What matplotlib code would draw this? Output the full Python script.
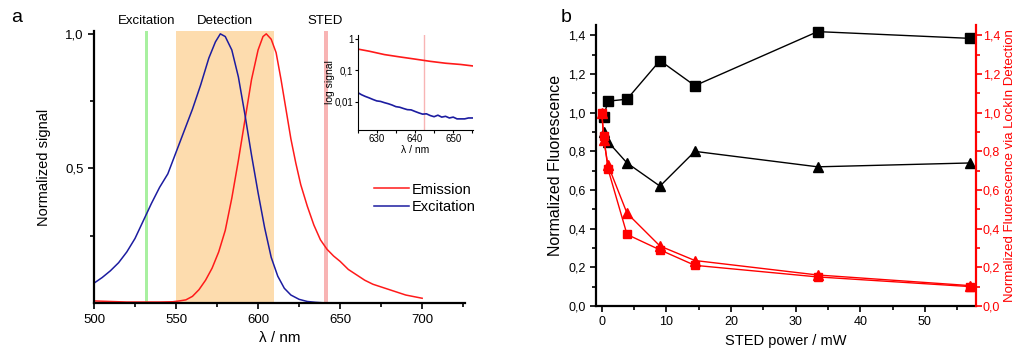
import matplotlib
matplotlib.use("Agg")
import matplotlib.pyplot as plt
from matplotlib.ticker import FixedLocator, MultipleLocator, FuncFormatter

plt.rcParams['font.family'] = ['Liberation Sans Narrow', 'Liberation Sans', 'DejaVu Sans']

# ---- panel a: spectra ----
exc_wl = [500, 505, 510, 515, 520, 525, 530, 535, 540, 545, 550, 555, 560, 565, 570, 574, 577,
          580, 584, 588, 592, 596, 600, 604, 608, 612, 616, 620, 625, 630, 635, 640, 650, 660]
exc_val = [0.074, 0.095, 0.12, 0.15, 0.19, 0.24, 0.305, 0.37, 0.43, 0.48, 0.56, 0.64, 0.72, 0.81,
           0.91, 0.97, 1.0, 0.99, 0.94, 0.84, 0.70, 0.55, 0.41, 0.28, 0.17, 0.10, 0.055, 0.03,
           0.014, 0.006, 0.003, 0.001, 0.0, 0.0]
em_wl = [500, 510, 520, 530, 540, 548, 552, 556, 560, 564, 568, 572, 576, 580, 584, 588, 592, 596,
         600, 603, 605, 608, 611, 614, 617, 620, 623, 626, 630, 634, 638, 642, 646, 650, 655, 660,
         665, 670, 675, 680, 685, 690, 695, 700]
em_val = [0.008, 0.006, 0.004, 0.004, 0.004, 0.005, 0.008, 0.012, 0.025, 0.05, 0.085, 0.13, 0.19,
          0.27, 0.39, 0.53, 0.68, 0.83, 0.94, 0.99, 1.0, 0.98, 0.93, 0.83, 0.72, 0.61, 0.52, 0.44,
          0.36, 0.29, 0.235, 0.2, 0.175, 0.155, 0.125, 0.105, 0.085, 0.07, 0.06, 0.05, 0.04, 0.03,
          0.024, 0.018]

# inset (log scale)
ins_em_wl = [625, 628, 632, 636, 640, 644, 648, 652, 655]
ins_em_val = [0.48, 0.41, 0.32, 0.27, 0.23, 0.195, 0.17, 0.155, 0.14]
ins_exc_wl = [625, 626, 627, 628, 629, 630, 631, 632, 633, 634, 635, 636, 637, 638, 639, 640, 641,
              642, 643, 644, 645, 646, 647, 648, 649, 650, 651, 652, 653, 654, 655]
ins_exc_val = [0.020, 0.017, 0.015, 0.0135, 0.012, 0.0108, 0.0104, 0.0095, 0.0088, 0.0080, 0.0071,
               0.0068, 0.0062, 0.0057, 0.0056, 0.0050, 0.0045, 0.0041, 0.0042, 0.0037, 0.0034,
               0.0038, 0.0033, 0.0035, 0.0031, 0.0033, 0.0029, 0.0029, 0.0029, 0.0031, 0.0031]

# ---- panel b: STED power series ----
p_black = [0.3, 0.95, 3.9, 9.0, 14.4, 33.4, 57.0]
fl_square = [0.98, 1.06, 1.07, 1.27, 1.14, 1.42, 1.385]
fl_triangle = [0.90, 0.85, 0.74, 0.62, 0.80, 0.72, 0.74]
p_red = [0.0, 0.3, 0.95, 3.9, 9.0, 14.4, 33.4, 57.0]
lockin_square = [1.0, 0.88, 0.71, 0.37, 0.29, 0.21, 0.15, 0.10]
lockin_triangle = [1.0, 0.86, 0.73, 0.48, 0.31, 0.235, 0.16, 0.105]

comma = FuncFormatter(lambda v, p: ('%.1f' % v).replace('.', ','))

fig = plt.figure(figsize=(10.16, 3.5), dpi=100)

ax = fig.add_axes([0.0925, 0.134, 0.365, 0.777])
ax.axvspan(550, 610, color='#fddcae', lw=0)
ax.axvspan(531.2, 533.2, color='#a8f0a0', lw=0)
ax.axvspan(640, 642.5, color='#f8b4b4', lw=0)
ax.plot(em_wl, em_val, color='#ff1a1a', lw=1.1, label='Emission')
ax.plot(exc_wl, exc_val, color='#1c1ca0', lw=1.1, label='Excitation')
ax.set_xlim(500, 726)
ax.set_ylim(0, 1.01)
ax.xaxis.set_major_locator(FixedLocator([500, 550, 600, 650, 700]))
ax.xaxis.set_minor_locator(MultipleLocator(25))
ax.yaxis.set_major_locator(FixedLocator([0.5, 1.0]))
ax.yaxis.set_minor_locator(FixedLocator([0.25, 0.75]))
ax.yaxis.set_major_formatter(comma)
for s in ['top', 'right']:
    ax.spines[s].set_visible(False)
for s in ['left', 'bottom']:
    ax.spines[s].set_linewidth(1.6)
ax.tick_params(which='both', direction='out', width=1.2, labelsize=9.5)
ax.tick_params(which='major', length=4)
ax.tick_params(which='minor', length=3)
ax.set_xlabel('λ / nm', fontsize=11, labelpad=4)
ax.set_ylabel('Normalized signal', fontsize=10.5, labelpad=10)
ax.text(532, 1.025, 'Excitation', ha='center', va='bottom', fontsize=9.5)
ax.text(580, 1.025, 'Detection', ha='center', va='bottom', fontsize=9.5)
ax.text(641, 1.025, 'STED', ha='center', va='bottom', fontsize=9.5)
ax.legend(loc='upper left', bbox_to_anchor=(0.735, 0.47), frameon=False, fontsize=10.5,
          handlelength=2.4, handletextpad=0.2, labelspacing=0.25, borderpad=0)
fig.text(0.011, 0.937, 'a', fontsize=14)

ins = fig.add_axes([0.352, 0.629, 0.114, 0.271])
ins.axvline(642.3, color='#f8b4b4', lw=1.0)
ins.plot(ins_em_wl, ins_em_val, color='#ff1a1a', lw=1.2)
ins.plot(ins_exc_wl, ins_exc_val, color='#1c1ca0', lw=1.2)
ins.set_yscale('log')
ins.set_xlim(625, 655.3)
ins.set_ylim(0.0013, 1.34)
ins.set_xticks([630, 640, 650])
ins.xaxis.set_minor_locator(MultipleLocator(5))
ins.set_yticks([1, 0.1, 0.01])
ins.set_yticklabels(['1', '0,1', '0,01'])
ins.yaxis.set_minor_locator(FixedLocator([]))
for s in ['top', 'right']:
    ins.spines[s].set_visible(False)
ins.tick_params(which='both', direction='out', labelsize=7, pad=1, length=2, width=0.8)
ins.set_xlabel('λ / nm', fontsize=7.5, labelpad=1)
ins.set_ylabel('log signal', fontsize=7.5, labelpad=0)

# panel b
bx = fig.add_axes([0.5866, 0.126, 0.374, 0.803])
bx.plot(p_black, fl_square, color='black', lw=1.0, marker='s', ms=6.5)
bx.plot(p_black, fl_triangle, color='black', lw=1.0, marker='^', ms=7)
bx.set_xlim(-0.9, 57.9)
bx.set_ylim(0, 1.455)
bx.xaxis.set_major_locator(MultipleLocator(10))
bx.xaxis.set_minor_locator(MultipleLocator(5))
bx.yaxis.set_major_locator(MultipleLocator(0.2))
bx.yaxis.set_minor_locator(MultipleLocator(0.1))
bx.yaxis.set_major_formatter(comma)
bx.spines['top'].set_visible(False)
bx.spines['right'].set_visible(False)
for s in ['left', 'bottom']:
    bx.spines[s].set_linewidth(1.6)
bx.tick_params(which='both', direction='out', width=1.2, labelsize=9)
bx.tick_params(which='major', length=4)
bx.tick_params(which='minor', length=3)
bx.set_xlabel('STED power / mW', fontsize=10.5, labelpad=4)
bx.set_ylabel('Normalized Fluorescence', fontsize=11.5, labelpad=4)

rx = bx.twinx()
rx.plot(p_red, lockin_square, color='#ff0000', lw=1.0, marker='s', ms=5.5)
rx.plot(p_red, lockin_triangle, color='#ff0000', lw=1.0, marker='^', ms=6.5)
rx.set_ylim(0, 1.455)
rx.yaxis.set_major_locator(MultipleLocator(0.2))
rx.yaxis.set_minor_locator(MultipleLocator(0.1))
rx.yaxis.set_major_formatter(comma)
for s in ['top', 'left', 'bottom']:
    rx.spines[s].set_visible(False)
rx.spines['right'].set_color('#ff0000')
rx.spines['right'].set_linewidth(1.6)
rx.tick_params(which='both', direction='out', width=1.2, labelsize=9, colors='#ff0000', pad=1)
rx.tick_params(which='major', length=4)
rx.tick_params(which='minor', length=3)
rx.set_ylabel('Normalized Fluorescence via LockIn Detection', fontsize=9.5, color='#ff0000')
rx.yaxis.set_label_coords(1.089, 0.5)
rx.yaxis.label.set_va('center')
fig.text(0.552, 0.937, 'b', fontsize=14)

fig.savefig('out.png', dpi=100)
